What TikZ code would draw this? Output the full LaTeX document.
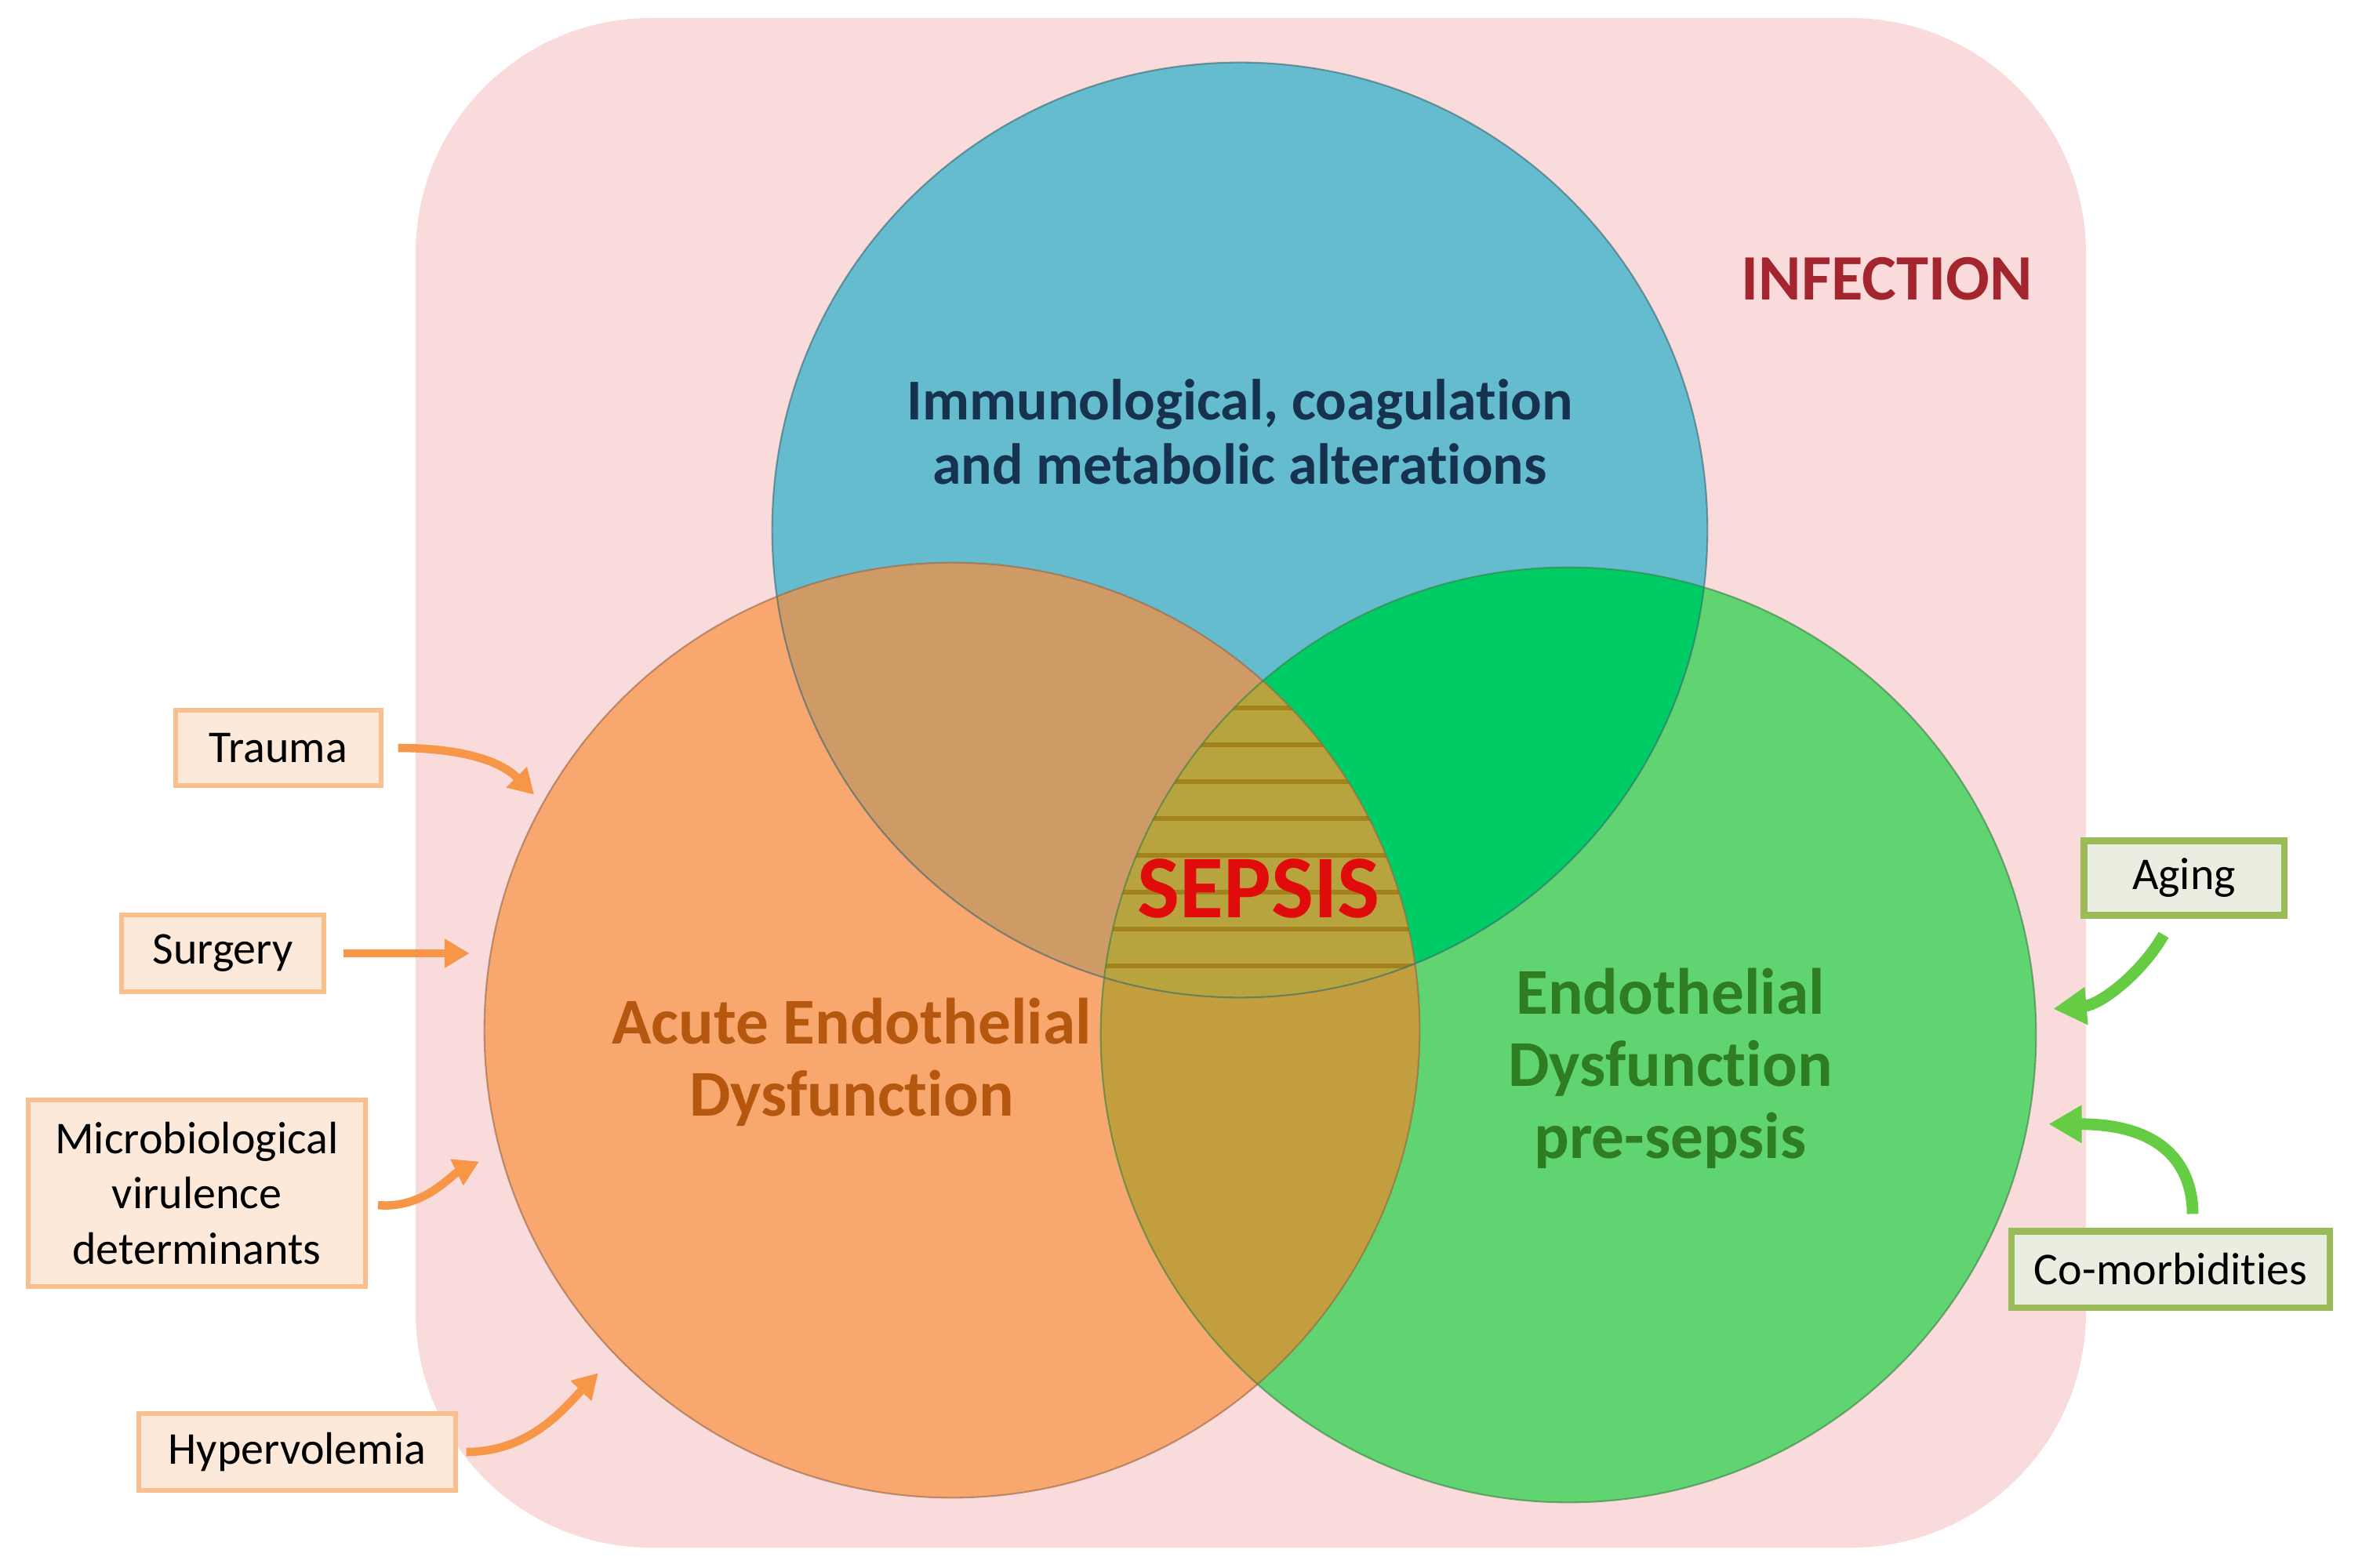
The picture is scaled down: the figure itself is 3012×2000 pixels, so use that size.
\documentclass[tikz,border=0pt]{standalone}
\usepackage{fontspec}
\setmainfont{Carlito}[Ligatures={NoCommon}]
\usetikzlibrary{arrows.meta}
\definecolor{bgpink}{HTML}{F9DBDC}
\definecolor{cblue}{HTML}{64BCCE}
\definecolor{corange}{HTML}{F8A76F}
\definecolor{cgreen}{HTML}{60D470}
\definecolor{colb}{HTML}{CE9A66}
\definecolor{cglb}{HTML}{00CC66}
\definecolor{colg}{HTML}{C29E3E}
\definecolor{call}{HTML}{B8A43E}
\definecolor{cstripe}{HTML}{A2821A}
\definecolor{tnavy}{HTML}{17324F}
\definecolor{torange}{HTML}{B5570F}
\definecolor{tgreen}{HTML}{2E7D20}
\definecolor{tinf}{HTML}{A3262E}
\definecolor{tsep}{HTML}{E00B0B}
\definecolor{oborder}{HTML}{FABF8F}
\definecolor{ofill}{HTML}{FDE9D9}
\definecolor{gborder}{HTML}{9BBB59}
\definecolor{gfill}{HTML}{EAEEE0}
\definecolor{oarrow}{HTML}{F79646}
\definecolor{garrow}{HTML}{66CC44}
\tikzset{
  circ/.style={circle, minimum size=11.92cm, inner sep=0pt, outer sep=0pt},
  obox/.style={draw=oborder, fill=ofill, line width=1.7pt, align=center, inner sep=0pt,
    font=\fontsize{16.5pt}{20pt}\selectfont},
  gbox/.style={draw=gborder, fill=gfill, line width=2.3pt, align=center, inner sep=0pt,
    font=\fontsize{16.5pt}{20pt}\selectfont},
  oarr/.style={draw=oarrow, line width=3pt, -{Triangle[length=9pt,width=10pt]}},
  garr/.style={draw=garrow, line width=4.2pt, -{Triangle[length=12pt,width=13pt]}},
  biglabel/.style={align=center, inner sep=0pt}
}
\begin{document}
\begin{tikzpicture}[x=0.01cm,y=-0.01cm]
\useasboundingbox (0,0) rectangle (3012,2000);
\fill[bgpink, rounded corners=3cm] (530,23) rectangle (2660,1974);

% circles
\node[circ, fill=cblue] (blue) at (1581,676) {};
\node[circ, fill=corange] (orange) at (1214,1314) {};
\node[circ, fill=cgreen] (green) at (2000,1320) {};
\def\R{5.96cm}

% pairwise intersections
\begin{scope}
  \clip (orange.center) circle[radius=\R];
  \fill[colb] (blue.center) circle[radius=\R];
\end{scope}
\begin{scope}
  \clip (green.center) circle[radius=\R];
  \fill[cglb] (blue.center) circle[radius=\R];
\end{scope}
\begin{scope}
  \clip (green.center) circle[radius=\R];
  \fill[colg] (orange.center) circle[radius=\R];
\end{scope}
% triple intersection with stripes
\begin{scope}
  \clip (green.center) circle[radius=\R];
  \clip (orange.center) circle[radius=\R];
  \fill[call] (blue.center) circle[radius=\R];
  \clip (blue.center) circle[radius=\R];
  \foreach \yy in {903,950,997,1044,1091,1138,1185,1232}
    \draw[cstripe, line width=1.8pt] (1300,\yy) -- (1900,\yy);
\end{scope}

% outlines
\draw[black!45!cblue, line width=0.6pt, opacity=0.6] (blue.center) circle[radius=\R];
\draw[black!40!corange, line width=0.6pt, opacity=0.6] (orange.center) circle[radius=\R];
\draw[black!40!cgreen, line width=0.6pt, opacity=0.6] (green.center) circle[radius=\R];

% labels
\node[biglabel, text=tnavy, font=\fontsize{21pt}{23.3pt}\selectfont\bfseries] (immlab) at (1581,551)
  {Immunological, coagulation\\and metabolic alterations};
\node[biglabel, text=torange, font=\fontsize{23.7pt}{26.2pt}\selectfont\bfseries] (acutelab) at (1086,1355)
  {Acute Endothelial\\Dysfunction};
\node[biglabel, text=tgreen, font=\fontsize{23.7pt}{26.2pt}\selectfont\bfseries] (prelab) at (2130,1363)
  {Endothelial\\Dysfunction\\pre-sepsis};
\node[anchor=base, inner sep=0pt, text=tsep, font=\fontsize{32.5pt}{36pt}\selectfont\bfseries] (sepsis) at (1605,1170) {SEPSIS};
\node[anchor=base, inner sep=0pt, text=tinf, font=\fontsize{23.5pt}{26pt}\selectfont\bfseries] (infection) at (2406,382) {INFECTION};

% left boxes
\node[obox, minimum width=2.61cm, minimum height=0.96cm] (trauma) at (355,954) {Trauma};
\node[obox, minimum width=2.57cm, minimum height=0.98cm] (surgery) at (284,1216) {Surgery};
\node[obox, minimum width=4.30cm, minimum height=2.38cm] (micro) at (251,1522) {Microbiological\\virulence\\determinants};
\node[obox, minimum width=4.03cm, minimum height=0.98cm] (hyper) at (379,1852) {Hypervolemia};

% right boxes
\node[gbox, minimum width=2.55cm, minimum height=0.95cm] (aging) at (2785,1120) {Aging};
\node[gbox, minimum width=4.05cm, minimum height=0.97cm] (comorb) at (2768,1619) {Co-morbidities};

% orange arrows
\draw[oarr, shorten <=0.19cm, shorten >=0.16cm] (trauma.east) to[out=0, in=135] (orange.151.5);
\draw[oarr, shorten <=0.22cm, shorten >=0.19cm] (surgery.east) -- (surgery.east -| orange.west);
\draw[oarr, shorten <=0.13cm, shorten >=0.30cm] ([yshift=-0.14cm]micro.east) to[out=-5, in=206] (orange.195.8);
\draw[oarr, shorten <=0.11cm, shorten >=0.32cm] (hyper.east) to[out=0, in=226] (orange.224.7);

% green arrows
\draw[garr, shorten <=0.24cm, shorten >=0.23cm] ([xshift=-0.14cm]aging.south) to[out=-120, in=5] (green.3.1);
\draw[garr, shorten <=0.18cm, shorten >=0.27cm] ([xshift=0.28cm]comorb.north) to[out=90, in=0, out looseness=0.7, in looseness=1.9] (green.-11.9);
\end{tikzpicture}
\end{document}
